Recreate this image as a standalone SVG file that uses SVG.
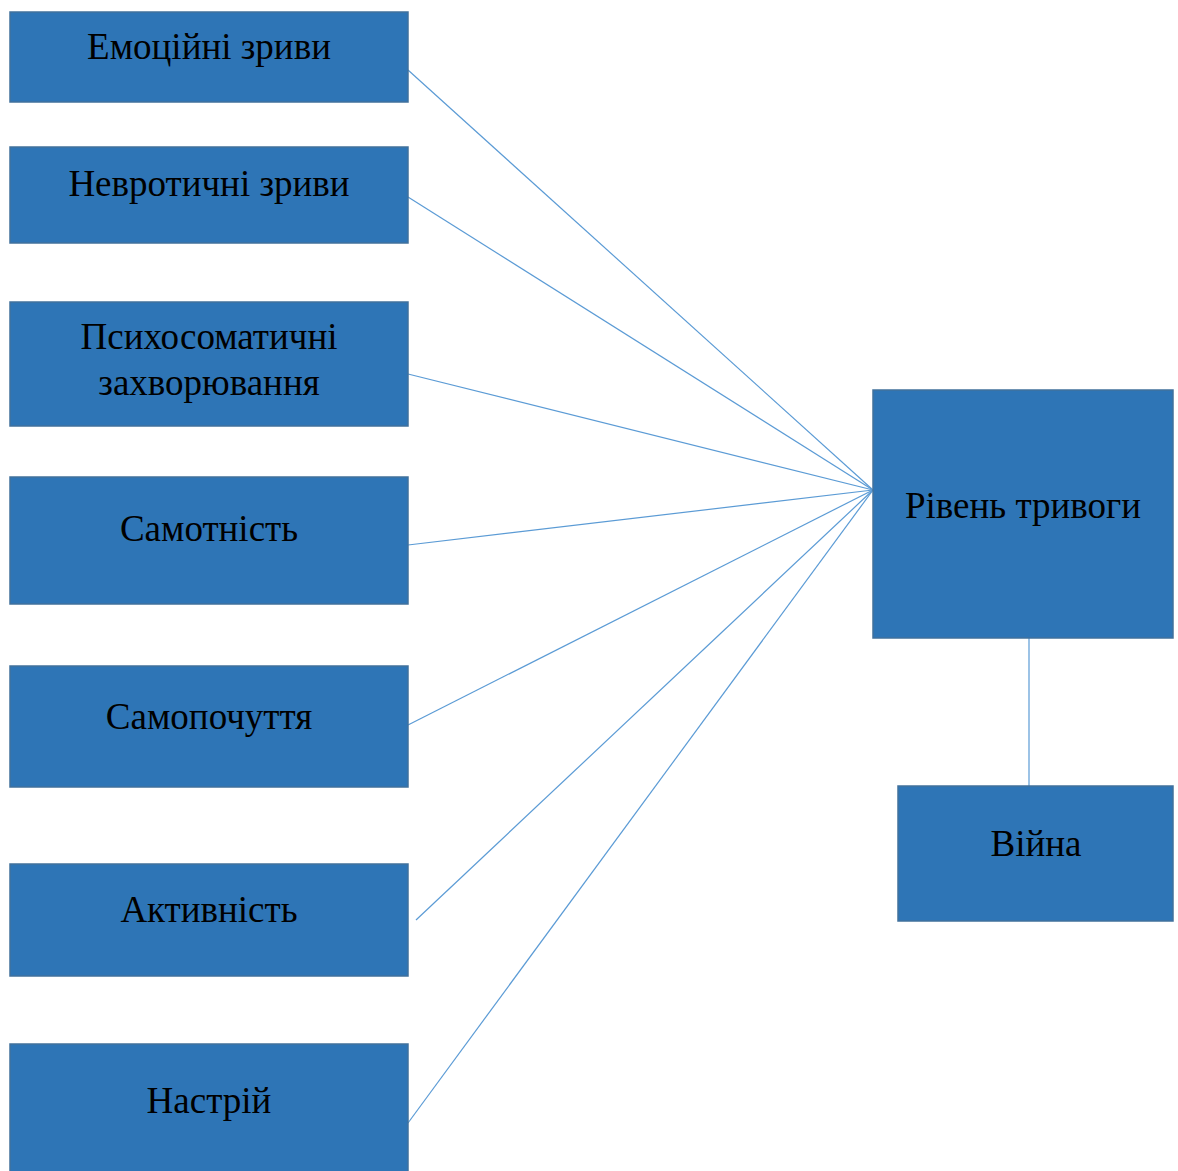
<svg xmlns="http://www.w3.org/2000/svg" width="1178" height="1171" viewBox="0 0 1178 1171">
<style>
.box{fill:#2E75B6;stroke:#41719C;stroke-width:1.5}
.lbl{font-family:"Liberation Serif","Times New Roman",serif;font-size:37px;fill:#000;text-anchor:middle}
.conn line{stroke:#5B9BD5;stroke-width:1.2}
</style>
<rect width="1178" height="1171" fill="#fff"/>
<g id="connectors" class="conn">
<line x1="873" y1="490" x2="408" y2="70"/>
<line x1="873" y1="490" x2="408" y2="197"/>
<line x1="873" y1="490" x2="408" y2="374"/>
<line x1="873" y1="490" x2="408" y2="545"/>
<line x1="873" y1="490" x2="408" y2="725"/>
<line x1="873" y1="490" x2="416" y2="920"/>
<line x1="873" y1="490" x2="408" y2="1123"/>
<line x1="1029" y1="638" x2="1029" y2="786"/>
</g>
<g id="n1"><rect class="box" x="10" y="12" width="398" height="90"/><text class="lbl" x="209" y="59">Емоційні зриви</text></g>
<g id="n2"><rect class="box" x="10" y="147" width="398" height="96"/><text class="lbl" x="209" y="196">Невротичні зриви</text></g>
<g id="n3"><rect class="box" x="10" y="302" width="398" height="124"/><text class="lbl" x="209" y="349">Психосоматичні</text><text class="lbl" x="209" y="395">захворювання</text></g>
<g id="n4"><rect class="box" x="10" y="477" width="398" height="127"/><text class="lbl" x="209" y="541">Самотність</text></g>
<g id="n5"><rect class="box" x="10" y="666" width="398" height="121"/><text class="lbl" x="209" y="729">Самопочуття</text></g>
<g id="n6"><rect class="box" x="10" y="864" width="398" height="112"/><text class="lbl" x="209" y="922">Активність</text></g>
<g id="n7"><rect class="box" x="10" y="1044" width="398" height="130"/><text class="lbl" x="209" y="1113">Настрій</text></g>
<g id="n8"><rect class="box" x="873" y="390" width="300" height="248"/><text class="lbl" x="1023" y="518">Рівень тривоги</text></g>
<g id="n9"><rect class="box" x="898" y="786" width="275" height="135"/><text class="lbl" x="1036" y="856">Війна</text></g>
</svg>
